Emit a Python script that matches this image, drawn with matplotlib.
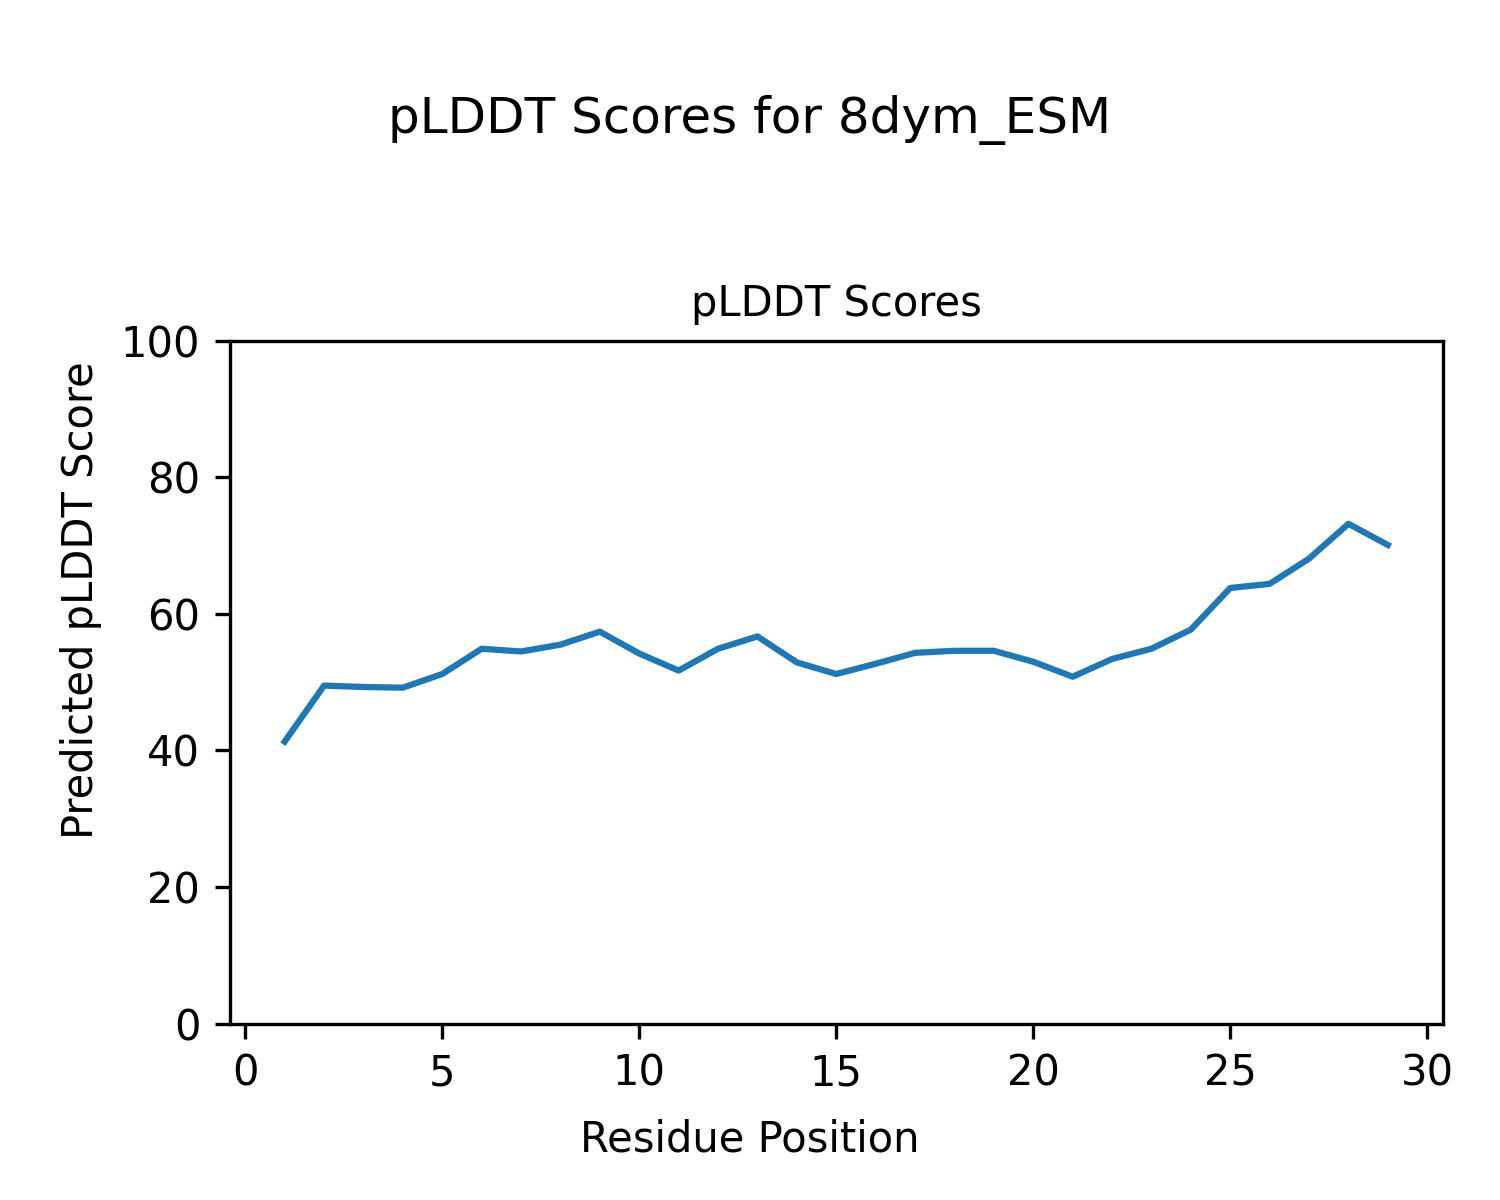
import matplotlib
matplotlib.use("Agg")
import matplotlib.pyplot as plt
import numpy as np

positions = list(range(1, 30))
plddt = [41.3, 49.5, 49.3, 49.2, 51.2, 54.9, 54.5, 55.5, 57.4, 54.2,
         51.7, 54.9, 56.7, 52.9, 51.2, 52.7, 54.3, 54.6, 54.6, 53.0,
         50.8, 53.4, 54.9, 57.7, 63.8, 64.4, 68.1, 73.2, 70.1]

fig, ax = plt.subplots(figsize=(5, 4), dpi=300)
fig.subplots_adjust(left=0.153, right=0.962, top=0.716, bottom=0.147)
fig.suptitle("pLDDT Scores for 8dym_ESM", y=0.921, fontsize=12)
fig.supxlabel("Residue Position", y=0.033, fontsize=10)
fig.supylabel("Predicted pLDDT Score", x=0.04, fontsize=10)

ax.plot(positions, plddt, color="#1f77b4")
ax.set_ylim(0, 100)
ax.set_title("pLDDT Scores", fontsize=10)

fig.savefig("out.png")
